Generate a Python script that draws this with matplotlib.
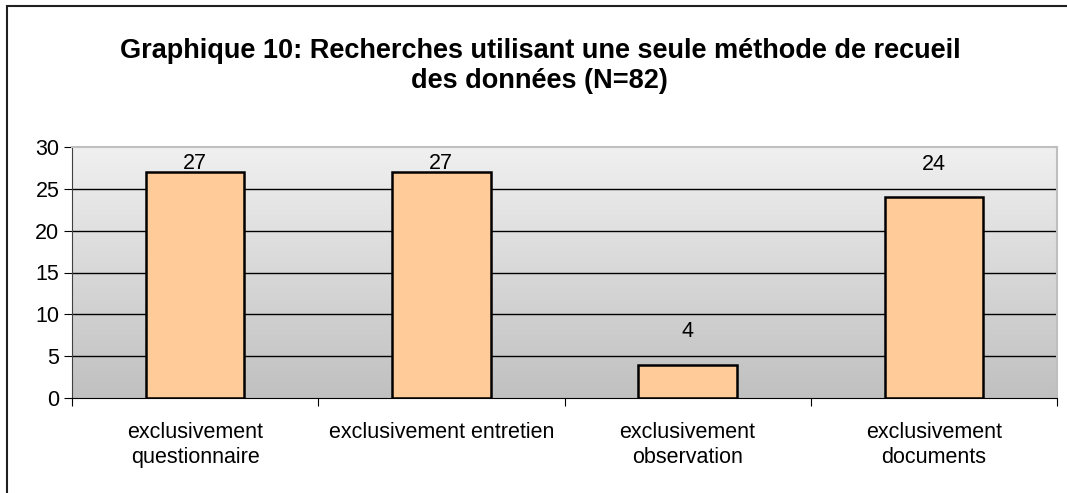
import numpy as np
import matplotlib.pyplot as plt
from matplotlib.patches import Rectangle
from matplotlib.colors import LinearSegmentedColormap

# -------------------------------
# Data
# -------------------------------
categories = ['exclusivement\nquestionnaire', 'exclusivement entretien',
              'exclusivement\nobservation', 'exclusivement\ndocuments']
values = [27, 27, 4, 24]
y_ticks = [0, 5, 10, 15, 20, 25, 30]
title = 'Graphique 10: Recherches utilisant une seule méthode de recueil\ndes données (N=82)'

plt.rcParams['font.family'] = ['Liberation Sans', 'DejaVu Sans']

fig = plt.figure(figsize=(10.67, 4.93), dpi=100)
ax = fig.add_axes([72 / 1067, 1 - 398 / 493, 985 / 1067, 251 / 493])

x = np.arange(len(categories))
ax.set_xlim(-0.5, len(categories) - 0.5)
ax.set_ylim(0, 30)

# gradient background of the plot area
grad = np.linspace(0, 1, 256).reshape(-1, 1)
ax.imshow(grad, extent=(-0.5, len(categories) - 0.5, 0, 30), aspect='auto',
          cmap=LinearSegmentedColormap.from_list('g', ['#C0C0C0', '#F0F0F0']),
          origin='lower', zorder=0)

for t in y_ticks[1:-1]:
    ax.axhline(t, color='black', lw=1, zorder=1)

ax.bar(x, values, width=0.4, color='#FFCC99', edgecolor='black', lw=1.8, zorder=2)

for xi, v in zip(x, values):
    ax.text(xi, min(v + 3.95, 28.0), str(v), ha='center', va='center', fontsize=15.5, zorder=3)

ax.set_yticks(y_ticks)
ax.set_yticklabels([str(t) for t in y_ticks], fontsize=15.5)
ax.set_xticks(np.arange(-0.5, len(categories)))
ax.set_xticklabels([''] * (len(categories) + 1))
ax.tick_params(axis='x', length=6, color='black')
ax.tick_params(axis='y', length=6, color='black', pad=3)
for xi, c in zip(x, categories):
    ax.text(xi, -2.9, c, ha='center', va='top', fontsize=15.5, linespacing=1.25)

ax.spines['left'].set_color('#404040')
ax.spines['bottom'].set_color('black')
ax.spines['top'].set_color('#BFBFBF')
ax.spines['right'].set_color('#BFBFBF')
ax.spines['top'].set_linewidth(1.5)
ax.spines['right'].set_linewidth(1.5)

fig.text(0.506, 1 - 66 / 493, title, ha='center', va='center', fontsize=19.5,
         fontweight='bold', linespacing=1.25)

# outer chart border (right and bottom edges fall outside the image)
fig.patches.append(Rectangle((7 / 1067, -0.05), 1.1, 1 - 6 / 493 + 0.05,
                             transform=fig.transFigure, fill=False,
                             edgecolor='#202020', lw=1.5))

plt.savefig('out.png', dpi=100)
